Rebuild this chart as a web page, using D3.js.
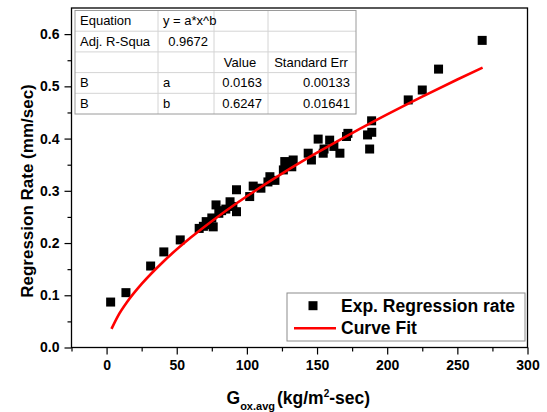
<!DOCTYPE html>
<html>
<head>
<meta charset="utf-8">
<script src="https://cdn.jsdelivr.net/npm/d3@7"></script>
<style>
  body { margin: 0; background: #fff; }
  svg { font-family: "Liberation Sans", Arial, sans-serif; }
  .axis text { font-weight: bold; font-size: 14px; fill: #000; }
  .axis path, .axis line { stroke: #000; stroke-width: 1.2; }
  .table text { font-size: 13px; fill: #000; }
</style>
</head>
<body>
<svg id="chart"></svg>
<script>
// experimental points: G_ox,avg (kg/m2-sec) vs regression rate (mm/sec)
let gox = [2.9, 13.8, 31.4, 40.8, 52.5, 66, 69, 71, 73, 75, 76, 78, 80, 82, 85,
  88, 90, 92.6, 92.6, 102, 104.5, 110, 115, 116.4, 120, 126, 127, 130, 132, 133,
  143.7, 146, 150.8, 154.4, 155, 159, 162, 166.3, 171, 172, 186, 189, 188.9, 187.5,
  215, 225, 236.6, 267.7];
let rate = [0.087, 0.105, 0.156, 0.183, 0.206, 0.228, 0.232, 0.241, 0.235, 0.248, 0.231, 0.273, 0.257, 0.262, 0.265,
  0.279, 0.270, 0.302, 0.260, 0.289, 0.309, 0.305, 0.317, 0.327, 0.320, 0.340, 0.356, 0.350, 0.346, 0.359,
  0.372, 0.359, 0.399, 0.372, 0.380, 0.397, 0.385, 0.372, 0.404, 0.410, 0.407, 0.412, 0.434, 0.380,
  0.474, 0.493, 0.533, 0.588];

// curve fit y = a*x^b
let fitX = [3.5, 8, 15, 25, 40, 60, 80, 100, 125, 150, 175, 200, 225, 250, 268];
let fitY = [0.0357, 0.0598, 0.0885, 0.1217, 0.1633, 0.2104, 0.2518, 0.2895, 0.3328, 0.3729, 0.4106, 0.4463, 0.4804, 0.5131, 0.5358];

let xTicks = [0, 50, 100, 150, 200, 250, 300];
let xMinor = [-25, 25, 75, 125, 175, 225, 275];
let yTicks = [0.0, 0.1, 0.2, 0.3, 0.4, 0.5, 0.6];
let yMinor = [0.05, 0.15, 0.25, 0.35, 0.45, 0.55];

let tableRows = [
  ['Equation', 'y = a*x^b', '', ''],
  ['Adj. R-Squa', '0.9672', '', ''],
  ['', '', 'Value', 'Standard Err'],
  ['B', 'a', '0.0163', '0.00133'],
  ['B', 'b', '0.6247', '0.01641']
];
let legendLabels = ['Exp. Regression rate', 'Curve Fit'];

// configuration of svg/plot area
let config = { 'svg': {}, 'plot': {} };
config.svg.width = 547;
config.svg.height = 412;
config.plot.x = 71.5;
config.plot.y = 8;
config.plot.width = 527.5 - config.plot.x;
config.plot.height = 347.5 - config.plot.y;

let svg = d3.select('svg#chart');
svg.attr('width', config.svg.width);
svg.attr('height', config.svg.height);

let plot = svg.append('g');
plot.attr('id', 'plot');
plot.attr('transform', translate(config.plot.x, config.plot.y));

// scales
let scale = {};
scale.x = d3.scaleLinear().domain([-25, 300]).range([0, config.plot.width]);
scale.y = d3.scaleLinear().domain([0, 0.65]).range([config.plot.height, 0]);

// axes
let axis = {};
axis.x = d3.axisBottom(scale.x).tickValues(xTicks).tickSize(7).tickPadding(6).tickFormat(d3.format('d'));
axis.xMinor = d3.axisBottom(scale.x).tickValues(xMinor).tickSize(4).tickFormat('');
axis.y = d3.axisLeft(scale.y).tickValues(yTicks).tickSize(7).tickPadding(5).tickFormat(d3.format('.1f'));
axis.yMinor = d3.axisLeft(scale.y).tickValues(yMinor).tickSize(4).tickFormat('');

let gx = plot.append('g').attr('class', 'axis').attr('transform', translate(0, config.plot.height));
gx.call(axis.x);
gx.select('.domain').remove();
let gxm = plot.append('g').attr('class', 'axis').attr('transform', translate(0, config.plot.height));
gxm.call(axis.xMinor);
gxm.select('.domain').remove();

let gy = plot.append('g').attr('class', 'axis');
gy.call(axis.y);
gy.select('.domain').remove();
let gym = plot.append('g').attr('class', 'axis');
gym.call(axis.yMinor);
gym.select('.domain').remove();

// frame
plot.append('rect')
  .attr('x', 0).attr('y', 0)
  .attr('width', config.plot.width).attr('height', config.plot.height)
  .attr('fill', 'none').attr('stroke', '#000').attr('stroke-width', 1.3);

// points
let points = gox.map((g, i) => ({ x: g, y: rate[i] }));
let size = 9;
plot.append('g').selectAll('rect')
  .data(points)
  .enter()
  .append('rect')
  .attr('x', d => scale.x(d.x) - size / 2)
  .attr('y', d => scale.y(d.y) - size / 2)
  .attr('width', size)
  .attr('height', size)
  .attr('fill', '#000');

// fit curve
let line = d3.line()
  .x(d => scale.x(d[0]))
  .y(d => scale.y(d[1]))
  .curve(d3.curveMonotoneX);

plot.append('path')
  .datum(fitX.map((x, i) => [x, fitY[i]]))
  .attr('d', line)
  .attr('fill', 'none')
  .attr('stroke', '#ff0000')
  .attr('stroke-width', 2.6);

// results table
let colX = [75, 158, 214, 268, 356];
let rowY = 10.5, rowH = 20.7;
let table = svg.append('g').attr('class', 'table');
table.append('rect')
  .attr('x', colX[0]).attr('y', rowY)
  .attr('width', colX[4] - colX[0]).attr('height', rowH * tableRows.length)
  .attr('fill', '#fff');
for (let r = 1; r < tableRows.length; r++) {
  table.append('line')
    .attr('x1', colX[0]).attr('x2', colX[4])
    .attr('y1', rowY + r * rowH).attr('y2', rowY + r * rowH)
    .attr('stroke', '#d4d4d4');
}
for (let c = 1; c < 4; c++) {
  table.append('line')
    .attr('x1', colX[c]).attr('x2', colX[c])
    .attr('y1', rowY).attr('y2', rowY + rowH * tableRows.length)
    .attr('stroke', '#d4d4d4');
}
table.append('rect')
  .attr('x', colX[0]).attr('y', rowY)
  .attr('width', colX[4] - colX[0]).attr('height', rowH * tableRows.length)
  .attr('fill', 'none').attr('stroke', '#9a9a9a');

tableRows.forEach(function(row, r) {
  row.forEach(function(cell, c) {
    if (cell === '') return;
    let t = table.append('text').text(cell).attr('y', rowY + r * rowH + rowH / 2 + 4.5);
    if (/^[0-9.]+$/.test(cell)) {
      t.attr('x', colX[c + 1] - 6).attr('text-anchor', 'end');
    } else if (r === 2) {
      t.attr('x', (colX[c] + colX[c + 1]) / 2 - 1).attr('text-anchor', 'middle');
    } else {
      t.attr('x', colX[c] + 5);
    }
  });
});

// legend
let legend = svg.append('g').attr('transform', translate(287, 293));
legend.append('rect')
  .attr('width', 238).attr('height', 48)
  .attr('fill', '#fff').attr('stroke', '#8c8c8c');
legend.append('rect')
  .attr('x', 26 - 4.5).attr('y', 12.7 - 4.5)
  .attr('width', 9).attr('height', 9).attr('fill', '#000');
legend.append('line')
  .attr('x1', 7).attr('x2', 49).attr('y1', 35.3).attr('y2', 35.3)
  .attr('stroke', '#ff0000').attr('stroke-width', 2.6);
legendLabels.forEach(function(label, i) {
  legend.append('text')
    .attr('x', 54).attr('y', 18.5 + i * 22)
    .style('font-weight', 'bold').style('font-size', '17.5px')
    .text(label);
});

// axis titles
svg.append('text')
  .attr('transform', translate(33, 191) + ' rotate(-90)')
  .attr('text-anchor', 'middle')
  .style('font-weight', 'bold').style('font-size', '17px')
  .text('Regression Rate (mm/sec)');

let xt = svg.append('text')
  .attr('x', 226.5).attr('y', 404)
  .style('font-weight', 'bold').style('font-size', '17.5px');
xt.append('tspan').text('G');
xt.append('tspan').attr('dy', 6).style('font-size', '11px').text('ox.avg');
xt.append('tspan').attr('dy', -6).attr('dx', 2).text('(kg/m');
xt.append('tspan').attr('dy', -7).style('font-size', '10px').text('2');
xt.append('tspan').attr('dy', 7).text('-sec)');

// helper method to make translating easier
function translate(x, y) {
  return 'translate(' + x + ',' + y + ')';
}
</script>
</body>
</html>
